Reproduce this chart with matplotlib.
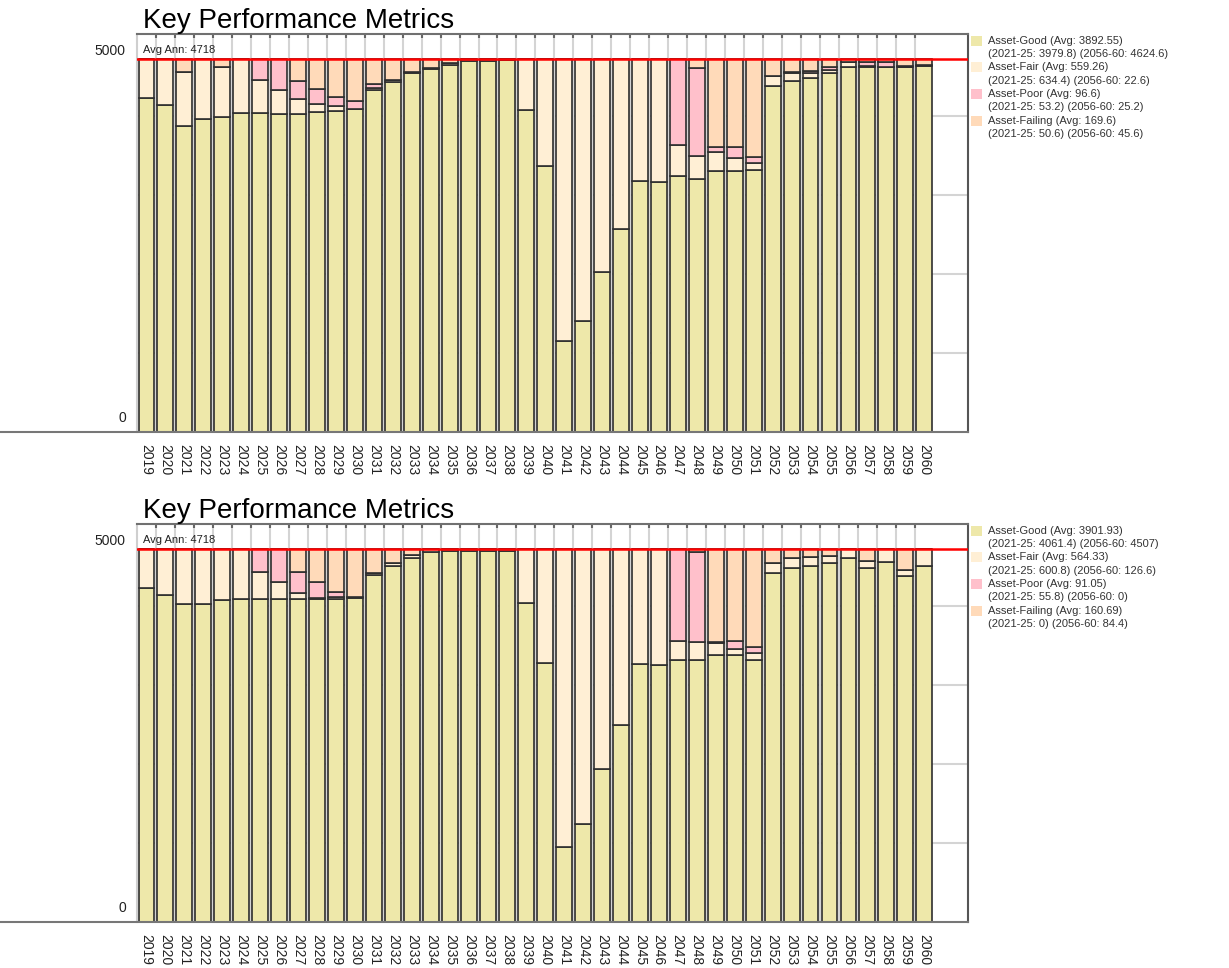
import matplotlib.pyplot as plt
from matplotlib.patches import Rectangle
from matplotlib.lines import Line2D
import numpy as np

plt.rcParams['font.family'] = ['Liberation Sans', 'DejaVu Sans']

years = list(range(2019, 2061))
colors = ['#EEE8AA', '#FFEFD5', '#FFC0CB', '#FFDAB9']
avg_ann = 4718

# scenario 1
good_a = [4231, 4146, 3871, 3956, 3990, 4041, 4041, 4032, 4032, 4049, 4058, 4083, 4328, 4434,
          4540, 4591, 4641, 4700, 4700, 4705, 4074, 3364, 1147, 1400, 2018, 2568, 3182, 3165,
          3237, 3199, 3300, 3300, 3313, 4379, 4447, 4485, 4548, 4616, 4616, 4616, 4616, 4633]
fair_a = [487, 572, 681, 762, 635, 677, 415, 296, 178, 102, 68, 10, 30, 20,
          20, 20, 25, 18, 18, 13, 644, 1354, 3571, 3318, 2700, 2150, 1536, 1553,
          393, 292, 241, 173, 93, 131, 102, 63, 35, 68, 20, 10, 10, 10]
poor_a = [0, 0, 12, 0, 0, 0, 262, 390, 237, 195, 118, 93, 45, 0,
          0, 0, 0, 0, 0, 0, 0, 0, 0, 0, 0, 0, 0, 0,
          1088, 1113, 70, 135, 76, 0, 15, 20, 35, 0, 50, 60, 10, 10]
fail_a = [0, 0, 154, 0, 93, 0, 0, 0, 271, 372, 474, 532, 315, 264,
          158, 107, 52, 0, 0, 0, 0, 0, 0, 0, 0, 0, 0, 0,
          0, 114, 1107, 1110, 1236, 208, 154, 150, 100, 34, 32, 32, 82, 65]
legend_a = [('Asset-Good (Avg: 3892.55)', '(2021-25: 3979.8) (2056-60: 4624.6)'),
            ('Asset-Fair (Avg: 559.26)', '(2021-25: 634.4) (2056-60: 22.6)'),
            ('Asset-Poor (Avg: 96.6)', '(2021-25: 53.2) (2056-60: 25.2)'),
            ('Asset-Failing (Avg: 169.6)', '(2021-25: 50.6) (2056-60: 45.6)')]

# scenario 2
good_b = [4230, 4145, 4027, 4027, 4082, 4094, 4094, 4094, 4094, 4094, 4094, 4103, 4392, 4510,
          4612, 4689, 4697, 4697, 4697, 4697, 4035, 3280, 946, 1230, 1931, 2491, 3267, 3246,
          3314, 3314, 3382, 3382, 3314, 4421, 4485, 4506, 4540, 4604, 4485, 4561, 4379, 4506]
fair_b = [488, 573, 691, 691, 636, 624, 339, 212, 76, 10, 15, 15, 30, 30,
          30, 29, 21, 21, 21, 21, 683, 1438, 3772, 3488, 2787, 2227, 1451, 1472,
          242, 229, 153, 76, 85, 119, 119, 119, 98, 114, 85, 157, 76, 212]
poor_b = [0, 0, 0, 0, 0, 0, 285, 412, 263, 200, 70, 0, 0, 0,
          0, 0, 0, 0, 0, 0, 0, 0, 0, 0, 0, 0, 0, 0,
          1162, 1146, 15, 93, 76, 0, 0, 0, 0, 0, 0, 0, 0, 0]
fail_b = [0, 0, 0, 0, 0, 0, 0, 0, 285, 414, 539, 600, 296, 178,
          76, 0, 0, 0, 0, 0, 0, 0, 0, 0, 0, 0, 0, 0,
          0, 29, 1168, 1167, 1243, 178, 114, 93, 80, 0, 148, 0, 263, 0]
legend_b = [('Asset-Good (Avg: 3901.93)', '(2021-25: 4061.4) (2056-60: 4507)'),
            ('Asset-Fair (Avg: 564.33)', '(2021-25: 600.8) (2056-60: 126.6)'),
            ('Asset-Poor (Avg: 91.05)', '(2021-25: 55.8) (2056-60: 0)'),
            ('Asset-Failing (Avg: 160.69)', '(2021-25: 0) (2056-60: 84.4)')]

W, H = 1229, 968
fig = plt.figure(figsize=(W / 100, H / 100), dpi=100)


def fx(px):
    return px / W


def fy(py):
    return 1 - py / H


def draw_panel(top_px, stacks, legend_lines):
    box_h = 397.5
    ax = fig.add_axes([fx(137), fy(top_px + box_h), fx(968) - fx(137), box_h / H])
    x = np.arange(len(years))
    bottom = np.zeros(len(years))
    for vals, c in zip(stacks, colors):
        ax.bar(x, vals, width=0.84, bottom=bottom, color=c,
               edgecolor='#2e2e2e', linewidth=1.2, zorder=3)
        bottom += np.array(vals)

    ax.set_xlim(-0.5, 43.3)
    ax.set_ylim(0, 5040)

    # grid: vertical between bars, horizontal every 1000
    ax.vlines(x[:-1] + 0.5, 0, 5040, color='#d4d4d4', lw=1.5, zorder=1)
    ax.hlines([1000, 2000, 3000, 4000], -0.5, 43.3, color='#d4d4d4', lw=1.5, zorder=1)
    ax.axhline(avg_ann, color='red', lw=1.8, zorder=4)

    ax.set_xticks(x)
    ax.set_xticklabels([str(y) for y in years])
    ax.set_xticks(x[:-1] + 0.5, minor=True)
    ax.tick_params(which='major', length=0, pad=9, labelsize=10,
                   labelrotation=270, labelcolor='#222222')
    ax.tick_params(which='minor', bottom=False, top=True, direction='in',
                   length=3, width=1.5, color='#666666')
    ax.set_yticks([])

    ax.spines['bottom'].set_visible(False)
    ax.spines['left'].set_color('#cfcfcf')
    ax.spines['left'].set_linewidth(1.5)
    ax.spines['top'].set_color('#707070')
    ax.spines['top'].set_linewidth(1.5)
    ax.spines['right'].set_color('#555555')
    ax.spines['right'].set_linewidth(1.5)

    ytr = ax.get_yaxis_transform()
    ax.annotate('5000', xy=(0, 5000), xycoords=ytr, xytext=(-8, -5),
                textcoords='offset points', ha='right', va='top', fontsize=10,
                color='#222222')
    ax.annotate('0', xy=(0, 0), xycoords=ytr, xytext=(-8, 5),
                textcoords='offset points', ha='right', va='bottom', fontsize=10,
                color='#222222')
    ax.annotate(f'Avg Ann: {avg_ann}', xy=(0, avg_ann), xycoords=ytr, xytext=(4, 3),
                textcoords='offset points', ha='left', va='bottom', fontsize=8,
                color='#222222', zorder=5)

    ax.text(0.007, 1.015, 'Key Performance Metrics', transform=ax.transAxes,
            fontsize=20, va='baseline', ha='left', color='black')

    # baseline running across the full width
    fig.add_artist(Line2D([0, fx(968)], [fy(top_px + box_h)] * 2,
                          color='#777777', lw=1.5))

    # legend to the right of the plot box
    for i, (line1, line2) in enumerate(legend_lines):
        yc = top_px + 6.7 + 26.7 * i
        fig.add_artist(Rectangle((fx(971), fy(yc + 5)), fx(11), 10 / H,
                                 facecolor=colors[i], edgecolor='none'))
        fig.text(fx(988), fy(yc), line1, va='center', ha='left', fontsize=8, color='#333333')
        fig.text(fx(988), fy(yc + 13.4), line2, va='center', ha='left', fontsize=8,
                 color='#333333')
    return ax


draw_panel(34, [good_a, fair_a, poor_a, fail_a], legend_a)
draw_panel(524, [good_b, fair_b, poor_b, fail_b], legend_b)

fig.savefig('out.png', dpi=100, facecolor='white')
